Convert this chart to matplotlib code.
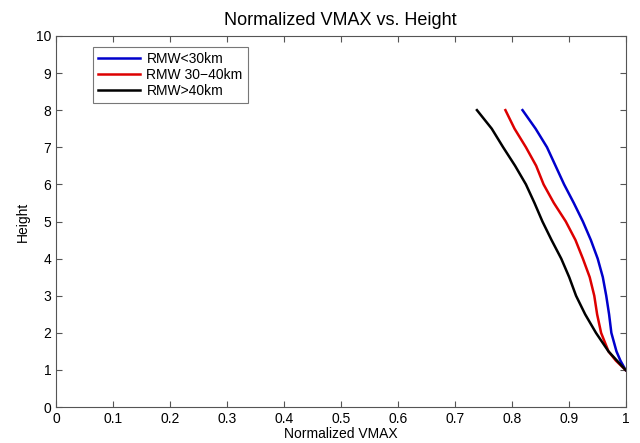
import matplotlib
matplotlib.use("Agg")
import matplotlib.pyplot as plt

plt.rcParams['font.family'] = ['Liberation Sans', 'DejaVu Sans']

height = [1, 1.25, 1.5, 2, 2.5, 3, 3.5, 4, 4.5, 5, 5.5, 6, 6.5, 7, 7.5, 8]
vmax_small = [1.0, 0.991, 0.984, 0.975, 0.971, 0.966, 0.960, 0.951, 0.939, 0.925, 0.909, 0.892, 0.877, 0.862, 0.842, 0.819]
vmax_mid = [1.0, 0.983, 0.970, 0.957, 0.950, 0.945, 0.937, 0.925, 0.912, 0.895, 0.874, 0.856, 0.843, 0.825, 0.805, 0.789]
vmax_large = [1.0, 0.985, 0.970, 0.948, 0.929, 0.913, 0.901, 0.887, 0.870, 0.854, 0.840, 0.825, 0.806, 0.785, 0.765, 0.739]
labels = ["RMW<30km", "RMW 30\u221240km", "RMW>40km"]
colors = ["#0000cc", "#dd0000", "black"]

fig = plt.figure(figsize=(6.4, 4.43), dpi=100)
ax = fig.add_axes([0.0875, 0.081, 0.89, 0.838])

for xs, lab, c in zip([vmax_small, vmax_mid, vmax_large], labels, colors):
    ax.plot(xs, height, color=c, lw=1.8, label=lab, solid_joinstyle="round")

ax.set_xlim(0, 1)
ax.set_ylim(0, 10)
ax.set_xticks([i / 10 for i in range(11)])
ax.set_xticklabels(["0", "0.1", "0.2", "0.3", "0.4", "0.5", "0.6", "0.7", "0.8", "0.9", "1"])
ax.set_yticks(range(11))
ax.tick_params(direction="in", top=True, right=True, labelsize=10, length=4, color="#555555")
for s in ax.spines.values():
    s.set_color("#555555")
ax.set_xlabel("Normalized VMAX", fontsize=10, labelpad=1)
ax.set_ylabel("Height", fontsize=10)
ax.set_title("Normalized VMAX vs. Height", fontsize=13, pad=8)
leg = ax.legend(loc="upper left", bbox_to_anchor=(0.065, 0.97), borderaxespad=0,
                fontsize=10, frameon=True, fancybox=False, handlelength=3,
                borderpad=0.35, labelspacing=0.15, handletextpad=0.5)
leg.get_frame().set_edgecolor("#555555")
leg.get_frame().set_linewidth(0.8)

fig.savefig("out.png", dpi=100)
